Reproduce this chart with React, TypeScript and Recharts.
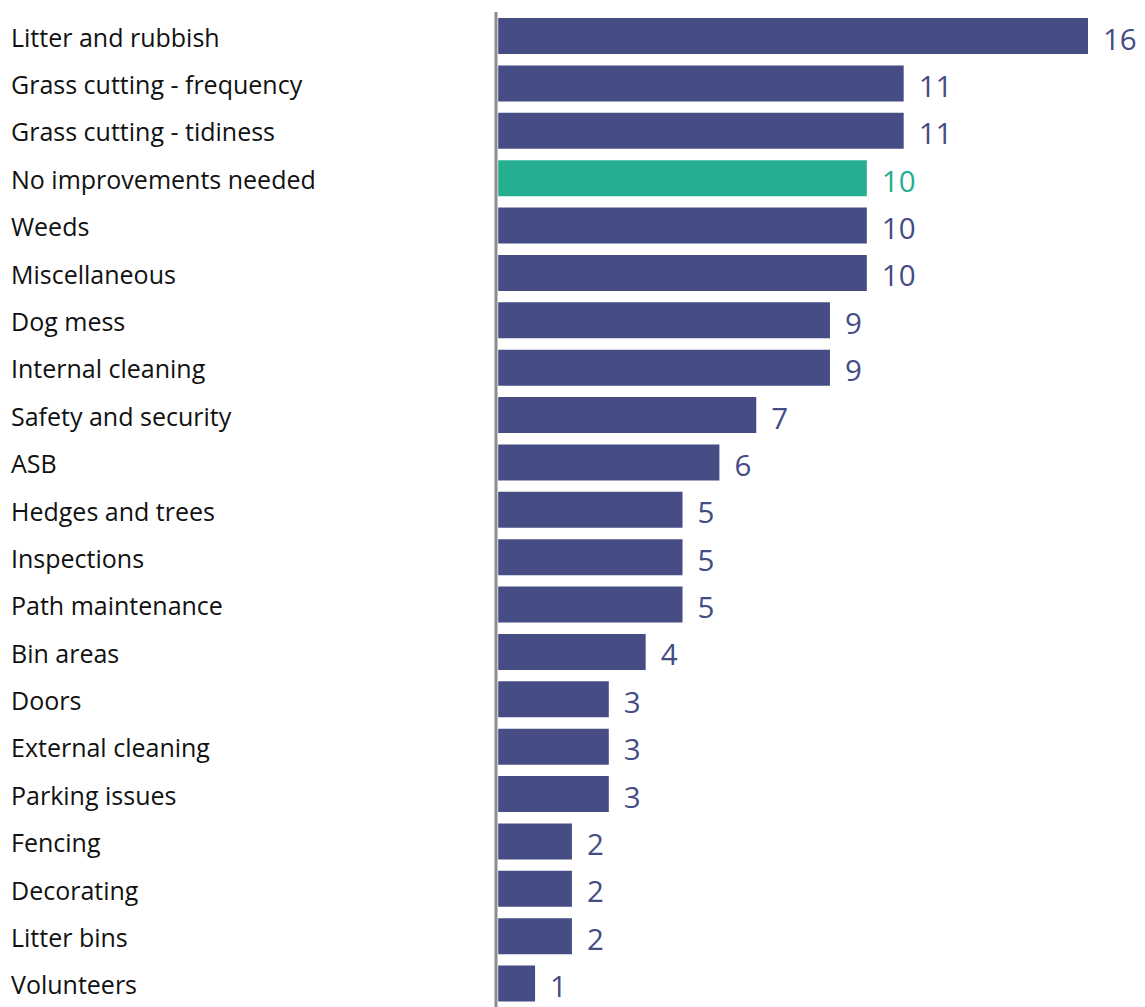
import { BarChart, Bar, XAxis, YAxis, Cell, LabelList } from "recharts";

const categories = [
  "Litter and rubbish",
  "Grass cutting - frequency",
  "Grass cutting - tidiness",
  "No improvements needed",
  "Weeds",
  "Miscellaneous",
  "Dog mess",
  "Internal cleaning",
  "Safety and security",
  "ASB",
  "Hedges and trees",
  "Inspections",
  "Path maintenance",
  "Bin areas",
  "Doors",
  "External cleaning",
  "Parking issues",
  "Fencing",
  "Decorating",
  "Litter bins",
  "Volunteers",
];

const counts = [16, 11, 11, 10, 10, 10, 9, 9, 7, 6, 5, 5, 5, 4, 3, 3, 3, 2, 2, 2, 1];

const highlighted = ["No improvements needed"];

const NAVY = "#464c84";
const GREEN = "#25ae8f";

const data = categories.map((name, i) => ({ name, value: counts[i] }));

const colorFor = (name: string) => (highlighted.includes(name) ? GREEN : NAVY);

function CategoryTick(props: any) {
  const { y, payload } = props;
  return (
    <text x={11} y={y} dy={1} textAnchor="start" dominantBaseline="central" fontSize={25} fill="#111">
      {payload.value}
    </text>
  );
}

function ValueLabel(props: any) {
  const { x, y, width, height, value, index } = props;
  return (
    <text
      x={x + width + 15}
      y={y + height / 2}
      dy={2}
      textAnchor="start"
      dominantBaseline="central"
      fontSize={29.5}
      fill={colorFor(categories[index])}
    >
      {value}
    </text>
  );
}

export default function App() {
  return (
    <div style={{ position: "absolute", left: 0, top: 0, fontFamily: "'Open Sans', sans-serif" }}>
      <BarChart
        layout="vertical"
        width={1145}
        height={1007}
        data={data}
        margin={{ top: 12, right: 57, bottom: 0, left: 0 }}
      >
        <XAxis type="number" domain={[-0.06, 16]} hide />
        <YAxis
          type="category"
          dataKey="name"
          width={496}
          tick={<CategoryTick />}
          tickLine={false}
          axisLine={{ stroke: "#8c8c8c", strokeWidth: 3 }}
          interval={0}
        />
        <Bar dataKey="value" barSize={36} isAnimationActive={false}>
          {data.map((d) => (
            <Cell key={d.name} fill={colorFor(d.name)} />
          ))}
          <LabelList dataKey="value" content={<ValueLabel />} />
        </Bar>
      </BarChart>
    </div>
  );
}
